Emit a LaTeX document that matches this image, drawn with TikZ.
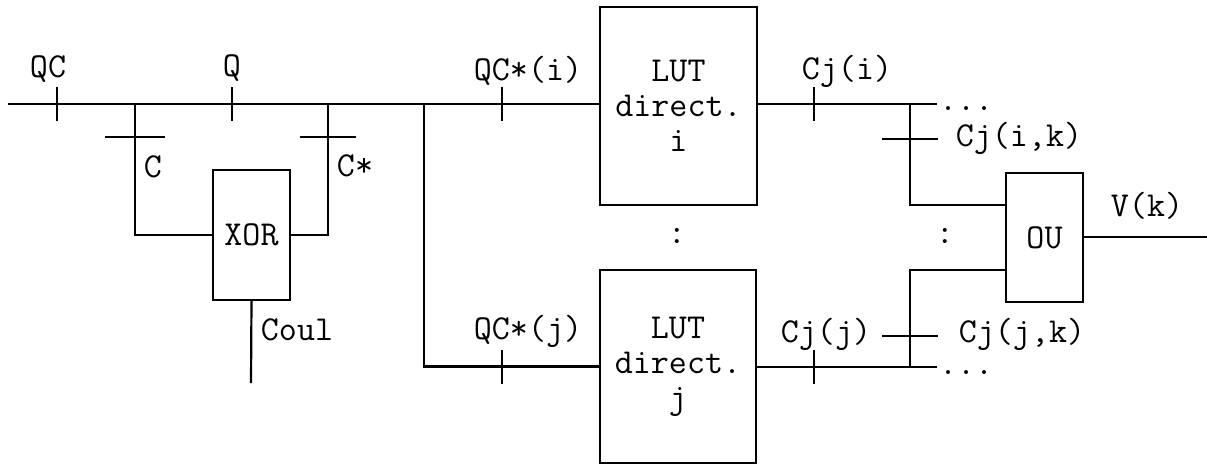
\documentclass[tikz,border=0pt]{standalone}
\begin{document}
\begin{tikzpicture}[
  x=0.5pt, y=-0.5pt,
  line width=1.1pt,
  block/.style={rectangle, draw, line width=1.1pt, inner sep=0pt, font=\ttfamily\fontsize{17.5}{17.5}\selectfont, align=center},
  lbl/.style={font=\ttfamily\fontsize{17.5}{17.5}\selectfont, inner sep=0pt}
]
\useasboundingbox (0,0) rectangle (1207,467);

% Blocks
\node[block, minimum width=38.5pt, minimum height=65pt] (xor) at (251.5,235) {XOR};
\node[block, minimum width=78.5pt, minimum height=99pt] (lutI) at (678.5,106) {LUT\\direct.\\i};
\node[block, minimum width=78pt, minimum height=96.5pt] (lutJ) at (678,366.5) {LUT\\direct.\\j};
\node[block, minimum width=38.5pt, minimum height=64.5pt] (ou) at (1044.5,237.5) {OU};

% Junctions
\coordinate (in) at (8,104);
\coordinate (cBr) at (135,104);
\coordinate (csBr) at (328,104);
\coordinate (split) at (424,104);
\coordinate (coulEnd) at (251,383);
\coordinate (outI) at (937,104);
\coordinate (outJ) at (937,367);
\coordinate (brI) at (910,104);
\coordinate (brJ) at (910,367);
\coordinate (vEnd) at (1207,237);

% Main lines
\draw (in) -- (in -| lutI.west);
\draw (cBr) -- (cBr |- xor.west) -- (xor.west);
\draw (csBr) -- (csBr |- xor.east) -- (xor.east);
\draw (xor.south) -- (coulEnd);
\draw (split) -- (split |- lutJ.west) -- (lutJ.west);
\draw (lutI.east |- outI) -- (outI);
\draw (lutJ.east |- outJ) -- (outJ);
\draw (brI) -- (910,205) -- (ou.west |- 0,205);
\draw (brJ) -- (910,270) -- (ou.west |- 0,270);
\draw (ou.east |- vEnd) -- (vEnd);

% Ticks
\foreach \tx/\ty in {57/104, 232/104, 502/104, 502/367, 814/104, 814/367}
  \draw (\tx,\ty) ++(0,-17) -- ++(0,34);
\draw (cBr |- 0,137) ++(-30,0) -- ++(60,0);
\draw (csBr |- 0,137) ++(-28,0) -- ++(56,0);
\draw (brI |- 0,139) ++(-28,0) -- ++(56,0);
\draw (brJ |- 0,336) ++(-28,0) -- ++(56,0);

% Labels
\node[lbl] (lQC) at (48,69) {QC};
\node[lbl] (lQ) at (232,68) {Q};
\node[lbl] (lC) at (153,167) {C};
\node[lbl] (lCs) at (355,166) {C*};
\node[lbl] (lCoul) at (297,330) {Coul};
\node[lbl] (lQCi) at (528,71) {QC*(i)};
\node[lbl] (lQCj) at (528,331) {QC*(j)};
\node[lbl] (lCji) at (847,71) {Cj(i)};
\node[lbl] (lCjik) at (1019,138) {Cj(i,k)};
\node[lbl] (lCjj) at (826,334) {Cj(j)};
\node[lbl] (lCjjk) at (1022,334) {Cj(j,k)};
\node[lbl] (lVk) at (1147,206) {V(k)};
\node[lbl, anchor=base west] (dotsI) at (938,110) {...};
\node[lbl, anchor=base west] (dotsJ) at (938,374) {...};
\node[lbl] (colI) at (677,236) {:};
\node[lbl] (colJ) at (945,236) {:};

\end{tikzpicture}
\end{document}
